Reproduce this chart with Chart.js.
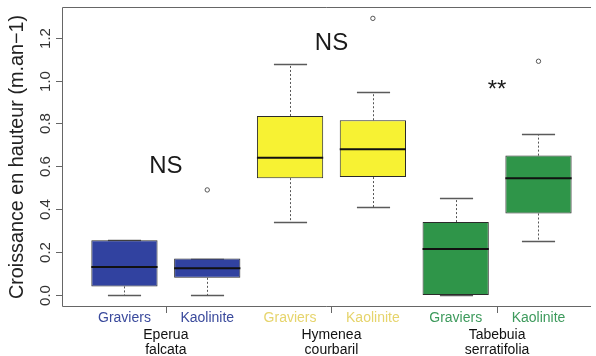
<!DOCTYPE html>
<html lang="fr">
<head>
  <meta charset="UTF-8">
  <title>Croissance en hauteur</title>
  <script src="https://cdn.jsdelivr.net/npm/chart.js"></script>
  <style>
    body { margin: 0; background: #fff; overflow: hidden; }
    #wrap { width: 596px; height: 356px; }
  </style>
</head>
<body>
  <div id="wrap"><canvas id="chartCanvas"></canvas></div>

  <script>
    // box statistics, one entry per box
    const soils = ['Graviers', 'Kaolinite', 'Graviers', 'Kaolinite', 'Graviers', 'Kaolinite'];
    const positions = [1, 2, 3, 4, 5, 6];
    const whiskLow = [0.00, 0.00, 0.34, 0.41, 0.00, 0.25];
    const q1 = [0.04, 0.08, 0.545, 0.55, 0.00, 0.38];
    const median = [0.13, 0.125, 0.64, 0.68, 0.215, 0.545];
    const q3 = [0.255, 0.17, 0.835, 0.815, 0.34, 0.65];
    const whiskHigh = [0.255, 0.17, 1.075, 0.945, 0.45, 0.75];

    const outlierX = [2, 4, 6];
    const outlierY = [0.49, 1.29, 1.09];

    const species = [['Eperua', 'falcata'], ['Hymenea', 'courbaril'], ['Tabebuia', 'serratifolia']];
    const speciesX = [1.5, 3.5, 5.5];

    const annText = ['NS', 'NS', '**'];
    const annX = [1.5, 3.5, 5.5];
    const annY = [0.60, 1.175, 0.955];

    const yTicks = [0.0, 0.2, 0.4, 0.6, 0.8, 1.0, 1.2];

    const fillColors = ['#3142a0', '#3142a0', '#f7f233', '#f7f233', '#2f9549', '#2f9549'];
    const labelColors = ['#3a4a9c', '#3a4a9c', '#e6d46c', '#e6d46c', '#3d9a5c', '#3d9a5c'];

    const FONT = '"Liberation Sans", Arial, sans-serif';

    const boxExtras = {
      id: 'boxExtras',
      beforeDatasetsDraw(chart) {
        const { ctx, scales: { x, y } } = chart;
        ctx.save();
        positions.forEach((p, i) => {
          const cx = Math.round(x.getPixelForValue(p)) + 0.5;
          const half = (x.getPixelForValue(p + 0.2) - x.getPixelForValue(p));
          // dotted whiskers
          ctx.strokeStyle = '#555';
          ctx.lineWidth = 1;
          ctx.setLineDash([2, 2]);
          ctx.beginPath();
          ctx.moveTo(cx, y.getPixelForValue(q3[i]));
          ctx.lineTo(cx, y.getPixelForValue(whiskHigh[i]));
          ctx.moveTo(cx, y.getPixelForValue(q1[i]));
          ctx.lineTo(cx, y.getPixelForValue(whiskLow[i]));
          ctx.stroke();
          // staples
          ctx.setLineDash([]);
          ctx.strokeStyle = '#5a5a5a';
          ctx.lineWidth = 1.5;
          ctx.beginPath();
          const yh = Math.round(y.getPixelForValue(whiskHigh[i])) + 0.5;
          const yl = Math.round(y.getPixelForValue(whiskLow[i])) + 0.5;
          ctx.moveTo(cx - half, yh); ctx.lineTo(cx + half, yh);
          ctx.moveTo(cx - half, yl); ctx.lineTo(cx + half, yl);
          ctx.stroke();
        });
        ctx.restore();
      },
      afterDatasetsDraw(chart) {
        const { ctx, chartArea: a, scales: { x, y } } = chart;
        ctx.save();
        // medians
        positions.forEach((p, i) => {
          const x0 = x.getPixelForValue(p - 0.4);
          const x1 = x.getPixelForValue(p + 0.4);
          const ym = y.getPixelForValue(median[i]);
          ctx.strokeStyle = '#111';
          ctx.lineWidth = 2;
          ctx.beginPath();
          ctx.moveTo(x0, ym); ctx.lineTo(x1, ym);
          ctx.stroke();
        });

        // frame (right side falls outside the picture)
        ctx.strokeStyle = '#666';
        ctx.lineWidth = 1;
        ctx.beginPath();
        ctx.moveTo(a.right, a.top + 0.5);
        ctx.lineTo(a.left + 0.5, a.top + 0.5);
        ctx.lineTo(a.left + 0.5, a.bottom + 0.5);
        ctx.lineTo(a.right, a.bottom + 0.5);
        ctx.stroke();

        // y ticks and rotated labels
        ctx.fillStyle = '#333';
        ctx.font = '15px ' + FONT;
        ctx.textAlign = 'center';
        ctx.textBaseline = 'middle';
        yTicks.forEach(v => {
          const py = Math.round(y.getPixelForValue(v)) + 0.5;
          ctx.beginPath();
          ctx.moveTo(a.left - 6, py); ctx.lineTo(a.left, py);
          ctx.stroke();
          ctx.save();
          ctx.translate(46, py);
          ctx.rotate(-Math.PI / 2);
          ctx.fillText(v.toFixed(1), 0, 0);
          ctx.restore();
        });

        // y title
        ctx.save();
        ctx.translate(18, 157);
        ctx.rotate(-Math.PI / 2);
        ctx.font = '19.8px ' + FONT;
        ctx.fillStyle = '#222';
        ctx.fillText('Croissance en hauteur (m.an\u22121)', 0, 0);
        ctx.restore();

        // x labels (soil) and species
        ctx.font = '14px ' + FONT;
        positions.forEach((p, i) => {
          ctx.fillStyle = labelColors[i];
          ctx.fillText(soils[i], x.getPixelForValue(p), 318);
        });
        ctx.fillStyle = '#111';
        speciesX.forEach((p, i) => {
          const px = x.getPixelForValue(p);
          ctx.beginPath();
          ctx.moveTo(Math.round(px) + 0.5, a.bottom);
          ctx.lineTo(Math.round(px) + 0.5, a.bottom + 7);
          ctx.stroke();
          ctx.fillText(species[i][0], px, 335);
          ctx.fillText(species[i][1], px, 350);
        });

        // significance labels
        ctx.font = '24px ' + FONT;
        ctx.fillStyle = '#1a1a1a';
        annText.forEach((t, i) => {
          ctx.fillText(t, x.getPixelForValue(annX[i]), y.getPixelForValue(annY[i]));
        });
        ctx.restore();
      }
    };

    const ctx = document.getElementById('chartCanvas').getContext('2d');
    new Chart(ctx, {
      type: 'bar',
      data: {
        datasets: [
          {
            label: 'boxes',
            data: positions.map((p, i) => ({ x: p, y: [q1[i], q3[i]] })),
            backgroundColor: fillColors,
            borderColor: '#2b2b2b',
            borderWidth: 1,
            borderSkipped: false,
            barPercentage: 0.8,
            categoryPercentage: 1
          },
          {
            type: 'scatter',
            label: 'outliers',
            data: outlierX.map((p, i) => ({ x: p, y: outlierY[i] })),
            pointRadius: 2.2,
            pointBorderWidth: 1,
            borderColor: '#555',
            backgroundColor: '#fff'
          }
        ]
      },
      options: {
        responsive: true,
        maintainAspectRatio: false,
        animation: false,
        layout: { padding: { left: 62, top: 7, right: 0, bottom: 50 } },
        plugins: { legend: { display: false }, tooltip: { enabled: false } },
        scales: {
          x: {
            type: 'linear', min: 0.246, max: 6.634, display: false, offset: false,
            afterBuildTicks: s => { s.ticks = positions.map(v => ({ value: v })); }
          },
          y: { min: -0.0513, max: 1.343, display: false }
        }
      },
      plugins: [boxExtras]
    });
  </script>
</body>
</html>
